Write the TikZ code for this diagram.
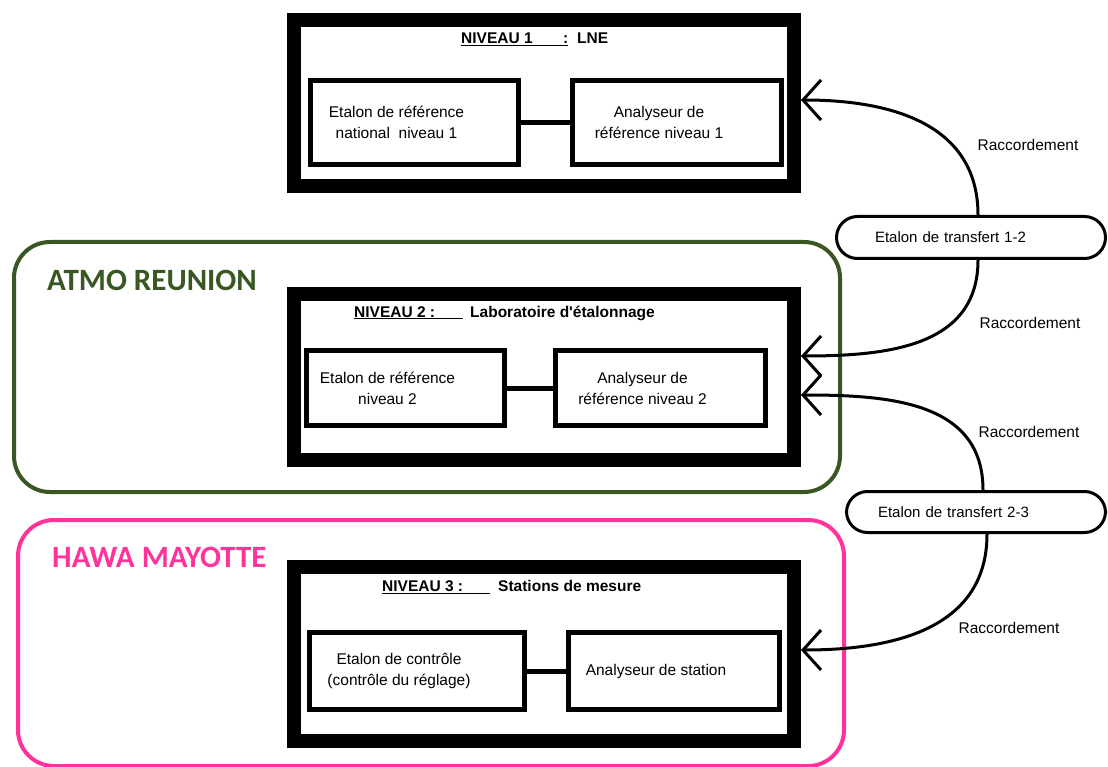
\documentclass[tikz,border=0pt]{standalone}
\usepackage{fontspec}
\setmainfont{Liberation Sans}
\newfontfamily\calibri{Carlito}
\usepackage{tikz}
\usetikzlibrary{arrows.meta}
\definecolor{atmo_green}{RGB}{56,87,35}
\definecolor{hawa_pink}{RGB}{255,51,153}
\newcommand{\lft}{\hspace*{-36pt}}

\begin{document}
\begin{tikzpicture}[x=1pt,y=-1pt,>={Straight Barb[length=18pt,width=40pt]}]
    \tikzstyle{region}=[draw, line width=4pt, rounded corners=36pt, minimum width=826pt, inner sep=0pt]
    \tikzstyle{regiontext}=[anchor=west, inner sep=0pt, font=\calibri\bfseries\fontsize{31}{36}\selectfont]
    \tikzstyle{level}=[draw, line width=14pt, minimum width=500pt, inner sep=0pt]
    \tikzstyle{title}=[anchor=west, inner sep=0pt, font=\fontsize{15.5}{18}\selectfont\bfseries]
    \tikzstyle{unit}=[draw, line width=5pt, align=center, inner sep=0pt, font=\fontsize{15.5}{21}\selectfont]
    \tikzstyle{transfer}=[draw, line width=3pt, rounded corners=21pt, align=left, font=\fontsize{15}{18}\selectfont]
    \tikzstyle{raccord}=[inner sep=0pt, font=\fontsize{15.5}{18}\selectfont]
    \tikzstyle{link}=[->, line width=3pt]

    \useasboundingbox (0,0) rectangle (1108,767);

    % regions
    \node[region, draw=atmo_green, minimum height=250pt] (reunion) at (427,367) {};
    \node[region, draw=hawa_pink, minimum height=246pt] (mayotte) at (431,643) {};
    \node[regiontext, text=atmo_green] (reuniontext) at (47,280) {ATMO REUNION};
    \node[regiontext, text=hawa_pink] (mayottetext) at (52,557) {HAWA MAYOTTE};

    % levels
    \node[level, minimum height=166pt] (lvl1) at (544,103) {};
    \node[level, minimum height=166pt] (lvl2) at (544,377) {};
    \node[level, minimum height=174pt] (lvl3) at (544,654) {};

    \node[title] (title1) at (461,39)  {\underline{\makebox[107pt][l]{NIVEAU 1\hfill:}}\hspace{9pt}LNE};
    \node[title] (title2) at (354,313) {\underline{\makebox[109pt][l]{NIVEAU 2 :}}\hspace{7pt}Laboratoire d\textquotesingle étalonnage};
    \node[title] (title3) at (382,587) {\underline{\makebox[108pt][l]{NIVEAU 3 :}}\hspace{8pt}Stations de mesure};

    \node[unit, minimum width=208pt, minimum height=84pt] (etalon1) at (414.5,122.5) {\lft Etalon de référence\\\lft national~ niveau 1};
    \node[unit, minimum width=209pt, minimum height=84pt] (analyseur1) at (677,122.5) {\lft Analyseur de\\\lft référence niveau 1};
    \node[unit, minimum width=198pt, minimum height=75pt] (etalon2) at (405.5,388) {\lft Etalon de référence\\\lft niveau 2};
    \node[unit, minimum width=210pt, minimum height=75pt] (analyseur2) at (660.5,388) {\lft Analyseur de\\\lft référence niveau 2};
    \node[unit, minimum width=215pt, minimum height=77pt] (etalon3) at (417,671) {\lft Etalon de contrôle\\\lft (contrôle du réglage)};
    \node[unit, minimum width=211pt, minimum height=77pt] (analyseur3) at (674,671) {\lft Analyseur de station};

    % transfer standards
    \node[transfer, minimum height=42pt, inner xsep=38.5pt, text width=192pt] (t12) at (971,237.5) {Etalon de transfert 1-2};
    \node[transfer, minimum height=41pt, inner xsep=31.5pt, text width=196pt] (t23) at (976,512) {Etalon de transfert 2-3};

    \node[raccord] (r1) at (1028,145) {Raccordement};
    \node[raccord] (r2) at (1030,323) {Raccordement};
    \node[raccord] (r3) at (1029,432) {Raccordement};
    \node[raccord] (r4) at (1009,628) {Raccordement};

    \coordinate (s1) at ([xshift=7pt]t12.north);
    \coordinate (s2) at ([xshift=7pt]t12.south);
    \coordinate (s3) at ([xshift=7pt]t23.north);
    \coordinate (s4) at ([xshift=11pt]t23.south);
    \coordinate (e1) at ([yshift=3pt]lvl1.east);
    \coordinate (e2) at ([yshift=21pt]lvl2.east);
    \coordinate (e3) at ([yshift=-18pt]lvl2.east);
    \coordinate (e4) at ([yshift=4pt]lvl3.east);

    \path
     (etalon1) edge[line width=5pt] (analyseur1)
     (etalon2) edge[line width=5pt] (analyseur2)
     (etalon3) edge[line width=5pt] (analyseur3)
     (s1) edge[link, out=90, in=0, looseness=1.1] (e1)
     (s2) edge[link, out=-90, in=0, looseness=1.1] (e2)
     (s3) edge[link, out=90, in=0, looseness=1.1] (e3)
     (s4) edge[link, out=-90, in=0, looseness=1.1] (e4)
     ;
\end{tikzpicture}
\end{document}
